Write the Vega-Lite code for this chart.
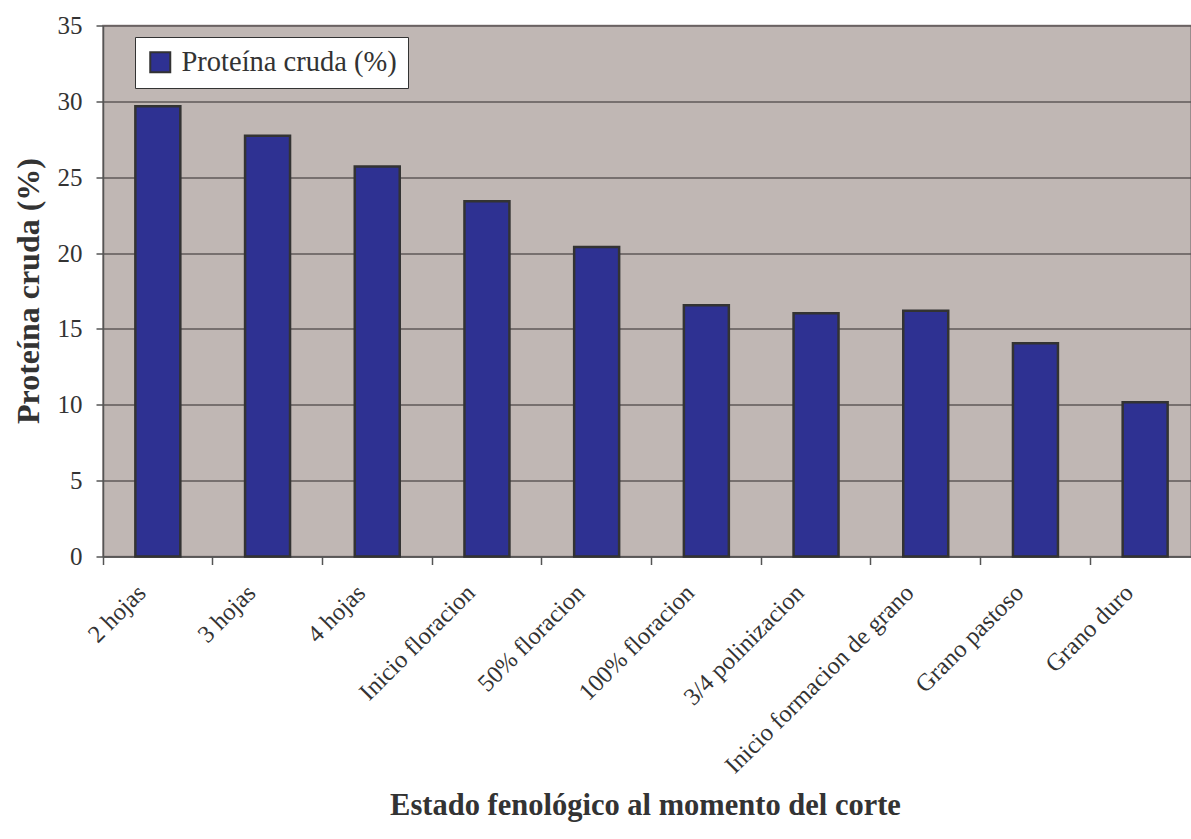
{
  "$schema": "https://vega.github.io/schema/vega-lite/v6.json",
  "autosize": {"type": "none"},
  "width": 1088,
  "height": 531,
  "padding": {"left": 103, "top": 25.5, "right": 0, "bottom": 282.5},
  "background": "#ffffff",
  "config": {
    "font": "Liberation Serif",
    "axis": {"labelFont": "Liberation Serif", "titleFont": "Liberation Serif"},
    "legend": {"labelFont": "Liberation Serif"},
    "view": {"fill": "#c0b7b4", "stroke": "#8a8080", "strokeWidth": 1.5}
  },
  "data": {
    "values": [
      {"estado": "2 hojas", "proteina": 29.67, "serie": "Proteína cruda (%)"},
      {"estado": "3 hojas", "proteina": 27.73, "serie": "Proteína cruda (%)"},
      {"estado": "4 hojas", "proteina": 25.71, "serie": "Proteína cruda (%)"},
      {"estado": "Inicio floracion", "proteina": 23.41, "serie": "Proteína cruda (%)"},
      {"estado": "50% floracion", "proteina": 20.4, "serie": "Proteína cruda (%)"},
      {"estado": "100% floracion", "proteina": 16.56, "serie": "Proteína cruda (%)"},
      {"estado": "3/4 polinizacion", "proteina": 16.03, "serie": "Proteína cruda (%)"},
      {"estado": "Inicio formacion de grano", "proteina": 16.19, "serie": "Proteína cruda (%)"},
      {"estado": "Grano pastoso", "proteina": 14.05, "serie": "Proteína cruda (%)"},
      {"estado": "Grano duro", "proteina": 10.17, "serie": "Proteína cruda (%)"}
    ]
  },
  "mark": {"type": "bar", "width": {"band": 0.41}, "stroke": "#333333", "strokeWidth": 2.5},
  "encoding": {
    "x": {
      "field": "estado",
      "type": "nominal",
      "sort": null,
      "scale": {"paddingInner": 0, "paddingOuter": 0, "range": [0, 1097]},
      "axis": {
        "title": "Estado fenológico al momento del corte",
        "titleFont": "Liberation Serif",
        "titleFontSize": 30.5,
        "titleFontWeight": "bold",
        "titleColor": "#333333",
        "titleX": 542,
        "titleY": 249,
        "titleBaseline": "middle",
        "titleAnchor": "middle",
        "labelFont": "Liberation Serif",
        "labelAngle": -45,
        "labelAlign": "right",
        "labelBaseline": "top",
        "labelFontSize": 24.5,
        "labelColor": "#333333",
        "labelPadding": 16,
        "labelOffset": -24,
        "labelLimit": 500,
        "labelOverlap": false,
        "bandPosition": 0,
        "ticks": true,
        "tickSize": 8,
        "tickColor": "#555555",
        "tickWidth": 1.5,
        "domainColor": "#555555",
        "domainWidth": 1.5,
        "grid": false
      }
    },
    "y": {
      "field": "proteina",
      "type": "quantitative",
      "scale": {"domain": [0, 35], "nice": false},
      "axis": {
        "title": "Proteína cruda (%)",
        "titleFont": "Liberation Serif",
        "titleFontSize": 32,
        "titleFontWeight": "bold",
        "titleColor": "#333333",
        "titleX": -75,
        "titleY": 265,
        "titleAngle": -90,
        "titleBaseline": "middle",
        "titleAlign": "center",
        "values": [0, 5, 10, 15, 20, 25, 30, 35],
        "labelFont": "Liberation Serif",
        "labelFontSize": 25,
        "labelColor": "#333333",
        "labelPadding": 14,
        "tickSize": 7,
        "tickColor": "#555555",
        "tickWidth": 1.5,
        "domainColor": "#555555",
        "domainWidth": 1.5,
        "grid": true,
        "gridColor": "#5f5858",
        "gridWidth": 1.5
      }
    },
    "color": {
      "field": "serie",
      "type": "nominal",
      "scale": {"range": ["#2e3192"]},
      "legend": {
        "title": null,
        "orient": "none",
        "legendX": 32,
        "legendY": 11.5,
        "fillColor": "#ffffff",
        "strokeColor": "#333333",
        "padding": 11,
        "symbolType": "square",
        "symbolSize": 400,
        "symbolStrokeColor": "#333333",
        "symbolStrokeWidth": 2,
        "symbolOpacity": 1,
        "labelFont": "Liberation Serif",
        "labelFontSize": 28.5,
        "labelColor": "#333333",
        "labelOffset": 7,
        "labelLimit": 400,
        "rowPadding": 0
      }
    }
  }
}
